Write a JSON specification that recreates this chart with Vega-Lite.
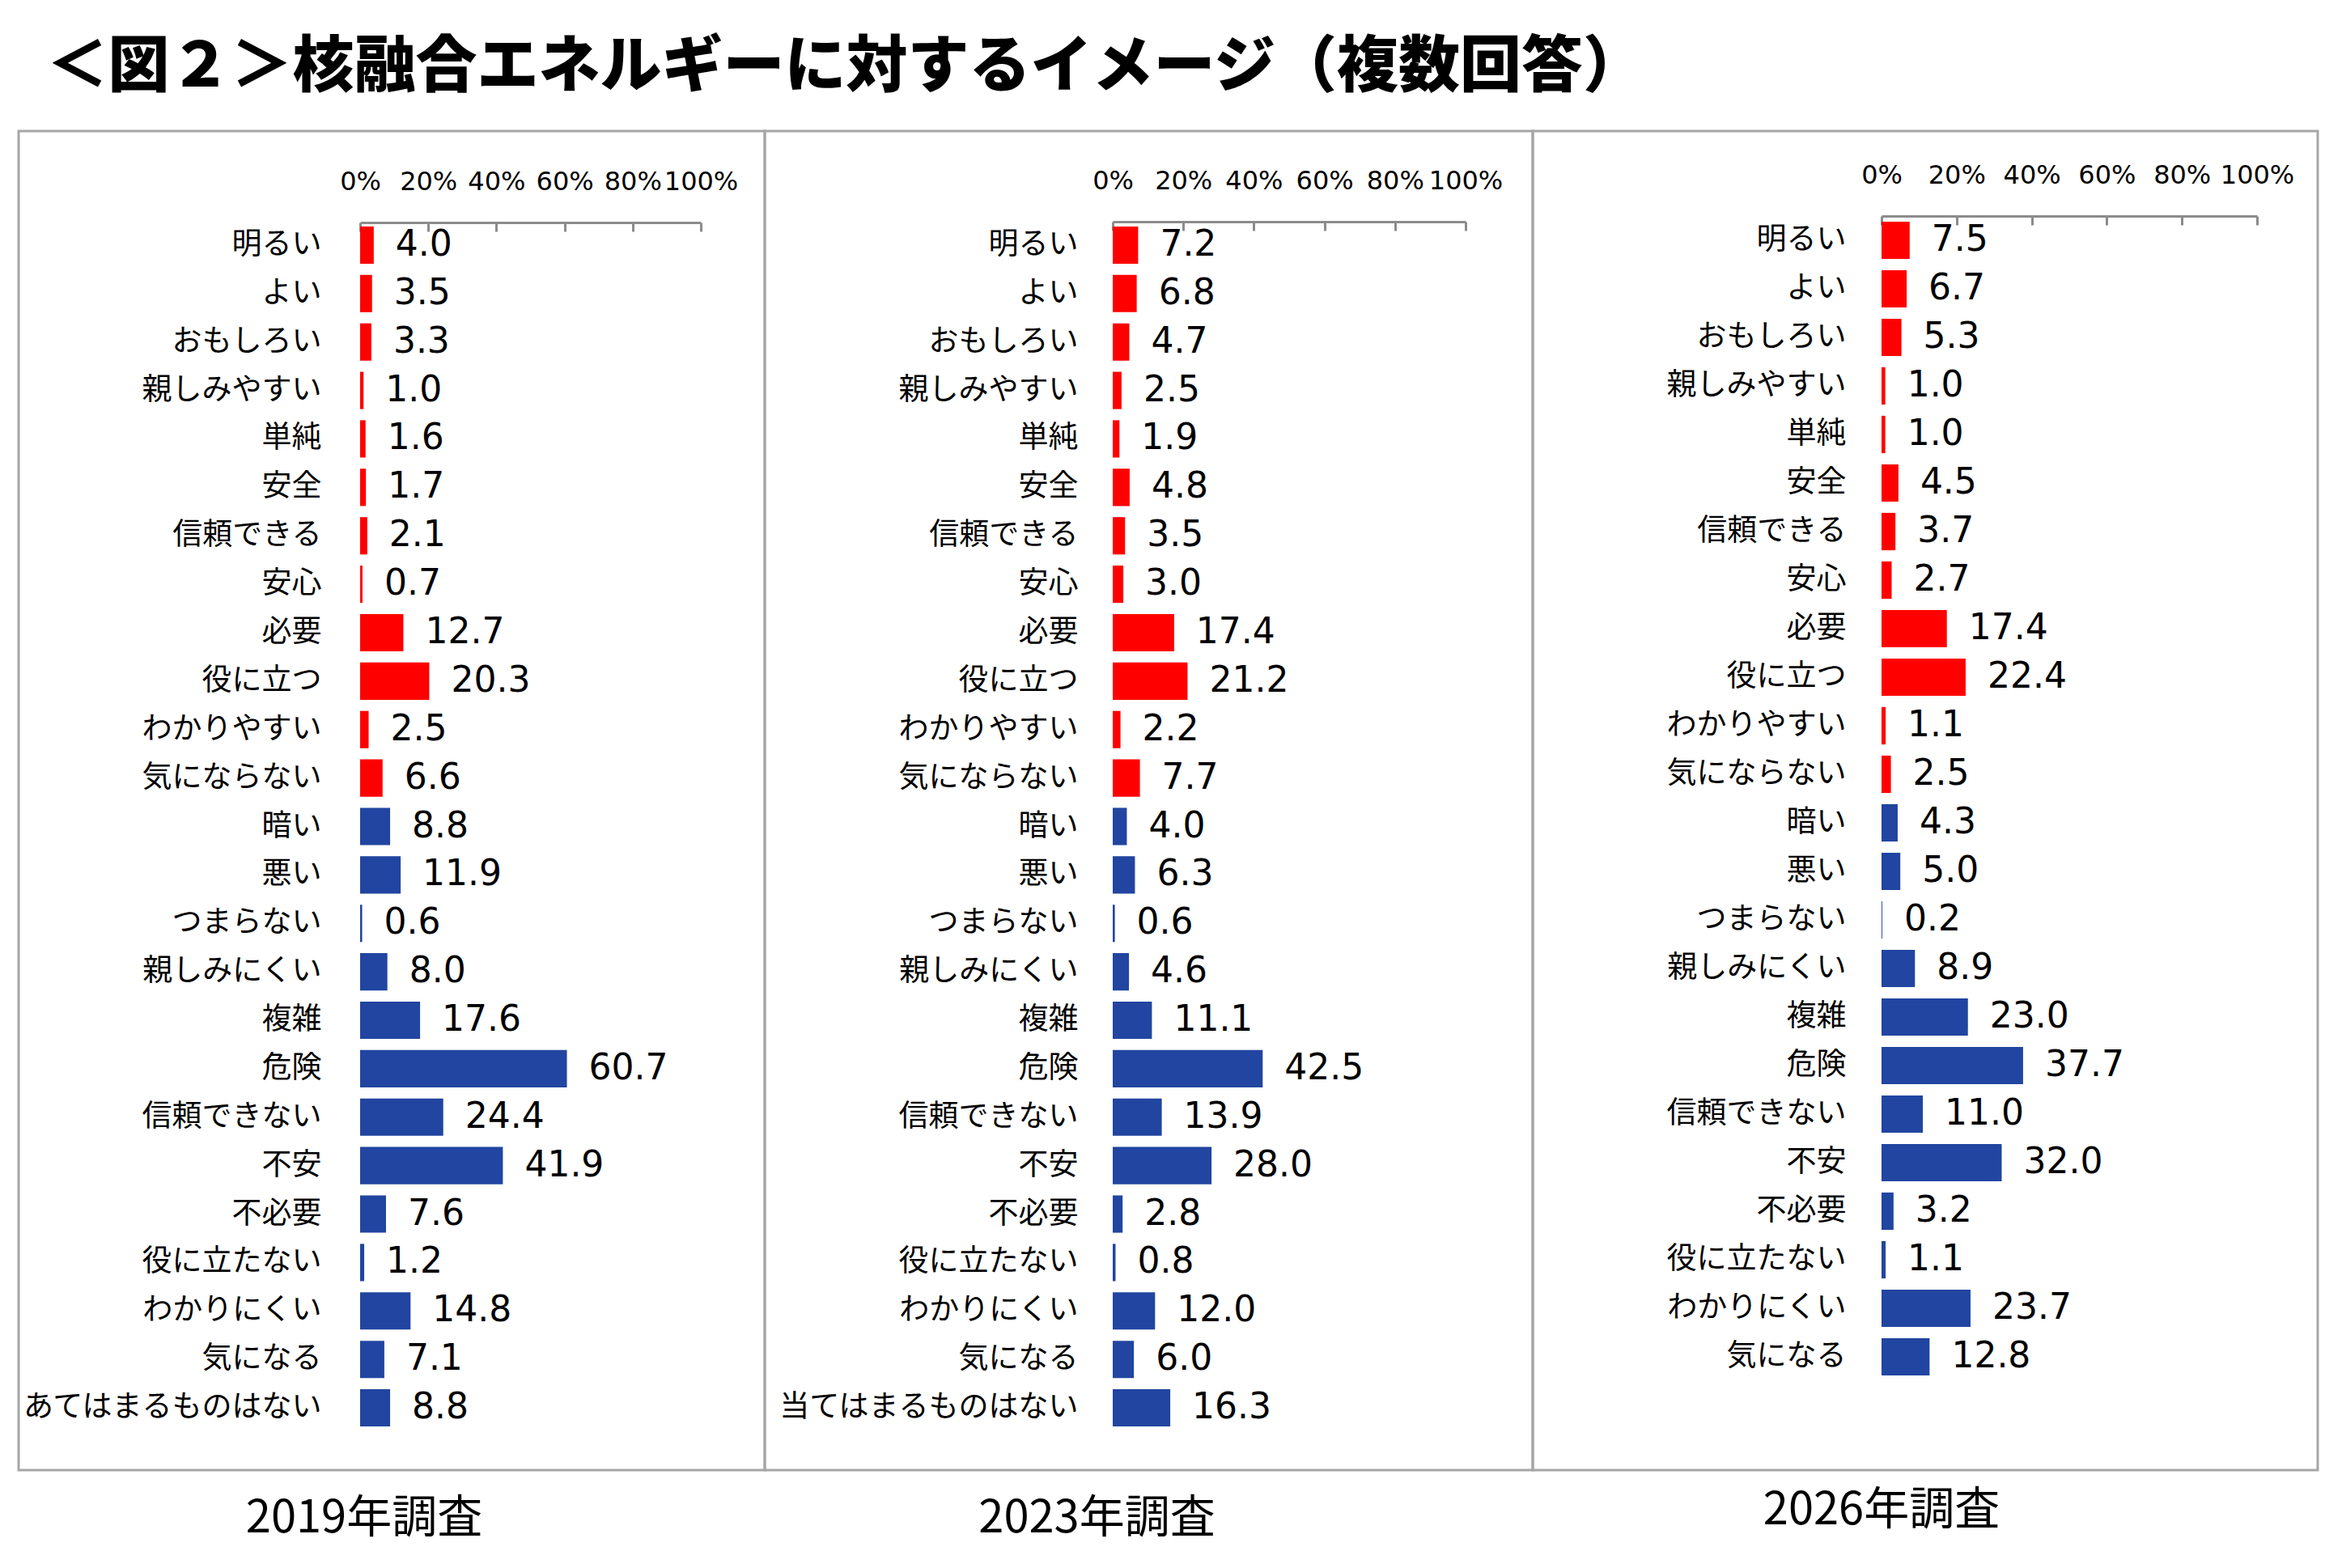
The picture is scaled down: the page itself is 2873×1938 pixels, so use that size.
{
  "$schema": "https://vega.github.io/schema/vega-lite/v6.json",
  "background": "white",
  "padding": {"left": 21, "top": 45, "right": 0, "bottom": 40},
  "title": {
    "text": "＜図２＞核融合エネルギーに対するイメージ（複数回答）",
    "anchor": "start",
    "font": "Noto Sans CJK JP",
    "fontSize": 76,
    "fontWeight": 900,
    "color": "#000000",
    "offset": 38,
    "dx": 36
  },
  "datasets": {
    "survey": [
      {"survey": "2019", "order": 1, "item": "明るい", "value": 4.0, "tone": "pos"},
      {"survey": "2019", "order": 2, "item": "よい", "value": 3.5, "tone": "pos"},
      {"survey": "2019", "order": 3, "item": "おもしろい", "value": 3.3, "tone": "pos"},
      {"survey": "2019", "order": 4, "item": "親しみやすい", "value": 1.0, "tone": "pos"},
      {"survey": "2019", "order": 5, "item": "単純", "value": 1.6, "tone": "pos"},
      {"survey": "2019", "order": 6, "item": "安全", "value": 1.7, "tone": "pos"},
      {"survey": "2019", "order": 7, "item": "信頼できる", "value": 2.1, "tone": "pos"},
      {"survey": "2019", "order": 8, "item": "安心", "value": 0.7, "tone": "pos"},
      {"survey": "2019", "order": 9, "item": "必要", "value": 12.7, "tone": "pos"},
      {"survey": "2019", "order": 10, "item": "役に立つ", "value": 20.3, "tone": "pos"},
      {"survey": "2019", "order": 11, "item": "わかりやすい", "value": 2.5, "tone": "pos"},
      {"survey": "2019", "order": 12, "item": "気にならない", "value": 6.6, "tone": "pos"},
      {"survey": "2019", "order": 13, "item": "暗い", "value": 8.8, "tone": "neg"},
      {"survey": "2019", "order": 14, "item": "悪い", "value": 11.9, "tone": "neg"},
      {"survey": "2019", "order": 15, "item": "つまらない", "value": 0.6, "tone": "neg"},
      {"survey": "2019", "order": 16, "item": "親しみにくい", "value": 8.0, "tone": "neg"},
      {"survey": "2019", "order": 17, "item": "複雑", "value": 17.6, "tone": "neg"},
      {"survey": "2019", "order": 18, "item": "危険", "value": 60.7, "tone": "neg"},
      {"survey": "2019", "order": 19, "item": "信頼できない", "value": 24.4, "tone": "neg"},
      {"survey": "2019", "order": 20, "item": "不安", "value": 41.9, "tone": "neg"},
      {"survey": "2019", "order": 21, "item": "不必要", "value": 7.6, "tone": "neg"},
      {"survey": "2019", "order": 22, "item": "役に立たない", "value": 1.2, "tone": "neg"},
      {"survey": "2019", "order": 23, "item": "わかりにくい", "value": 14.8, "tone": "neg"},
      {"survey": "2019", "order": 24, "item": "気になる", "value": 7.1, "tone": "neg"},
      {"survey": "2019", "order": 25, "item": "あてはまるものはない", "value": 8.8, "tone": "neg"},
      {"survey": "2023", "order": 1, "item": "明るい", "value": 7.2, "tone": "pos"},
      {"survey": "2023", "order": 2, "item": "よい", "value": 6.8, "tone": "pos"},
      {"survey": "2023", "order": 3, "item": "おもしろい", "value": 4.7, "tone": "pos"},
      {"survey": "2023", "order": 4, "item": "親しみやすい", "value": 2.5, "tone": "pos"},
      {"survey": "2023", "order": 5, "item": "単純", "value": 1.9, "tone": "pos"},
      {"survey": "2023", "order": 6, "item": "安全", "value": 4.8, "tone": "pos"},
      {"survey": "2023", "order": 7, "item": "信頼できる", "value": 3.5, "tone": "pos"},
      {"survey": "2023", "order": 8, "item": "安心", "value": 3.0, "tone": "pos"},
      {"survey": "2023", "order": 9, "item": "必要", "value": 17.4, "tone": "pos"},
      {"survey": "2023", "order": 10, "item": "役に立つ", "value": 21.2, "tone": "pos"},
      {"survey": "2023", "order": 11, "item": "わかりやすい", "value": 2.2, "tone": "pos"},
      {"survey": "2023", "order": 12, "item": "気にならない", "value": 7.7, "tone": "pos"},
      {"survey": "2023", "order": 13, "item": "暗い", "value": 4.0, "tone": "neg"},
      {"survey": "2023", "order": 14, "item": "悪い", "value": 6.3, "tone": "neg"},
      {"survey": "2023", "order": 15, "item": "つまらない", "value": 0.6, "tone": "neg"},
      {"survey": "2023", "order": 16, "item": "親しみにくい", "value": 4.6, "tone": "neg"},
      {"survey": "2023", "order": 17, "item": "複雑", "value": 11.1, "tone": "neg"},
      {"survey": "2023", "order": 18, "item": "危険", "value": 42.5, "tone": "neg"},
      {"survey": "2023", "order": 19, "item": "信頼できない", "value": 13.9, "tone": "neg"},
      {"survey": "2023", "order": 20, "item": "不安", "value": 28.0, "tone": "neg"},
      {"survey": "2023", "order": 21, "item": "不必要", "value": 2.8, "tone": "neg"},
      {"survey": "2023", "order": 22, "item": "役に立たない", "value": 0.8, "tone": "neg"},
      {"survey": "2023", "order": 23, "item": "わかりにくい", "value": 12.0, "tone": "neg"},
      {"survey": "2023", "order": 24, "item": "気になる", "value": 6.0, "tone": "neg"},
      {"survey": "2023", "order": 25, "item": "当てはまるものはない", "value": 16.3, "tone": "neg"},
      {"survey": "2026", "order": 1, "item": "明るい", "value": 7.5, "tone": "pos"},
      {"survey": "2026", "order": 2, "item": "よい", "value": 6.7, "tone": "pos"},
      {"survey": "2026", "order": 3, "item": "おもしろい", "value": 5.3, "tone": "pos"},
      {"survey": "2026", "order": 4, "item": "親しみやすい", "value": 1.0, "tone": "pos"},
      {"survey": "2026", "order": 5, "item": "単純", "value": 1.0, "tone": "pos"},
      {"survey": "2026", "order": 6, "item": "安全", "value": 4.5, "tone": "pos"},
      {"survey": "2026", "order": 7, "item": "信頼できる", "value": 3.7, "tone": "pos"},
      {"survey": "2026", "order": 8, "item": "安心", "value": 2.7, "tone": "pos"},
      {"survey": "2026", "order": 9, "item": "必要", "value": 17.4, "tone": "pos"},
      {"survey": "2026", "order": 10, "item": "役に立つ", "value": 22.4, "tone": "pos"},
      {"survey": "2026", "order": 11, "item": "わかりやすい", "value": 1.1, "tone": "pos"},
      {"survey": "2026", "order": 12, "item": "気にならない", "value": 2.5, "tone": "pos"},
      {"survey": "2026", "order": 13, "item": "暗い", "value": 4.3, "tone": "neg"},
      {"survey": "2026", "order": 14, "item": "悪い", "value": 5.0, "tone": "neg"},
      {"survey": "2026", "order": 15, "item": "つまらない", "value": 0.2, "tone": "neg"},
      {"survey": "2026", "order": 16, "item": "親しみにくい", "value": 8.9, "tone": "neg"},
      {"survey": "2026", "order": 17, "item": "複雑", "value": 23.0, "tone": "neg"},
      {"survey": "2026", "order": 18, "item": "危険", "value": 37.7, "tone": "neg"},
      {"survey": "2026", "order": 19, "item": "信頼できない", "value": 11.0, "tone": "neg"},
      {"survey": "2026", "order": 20, "item": "不安", "value": 32.0, "tone": "neg"},
      {"survey": "2026", "order": 21, "item": "不必要", "value": 3.2, "tone": "neg"},
      {"survey": "2026", "order": 22, "item": "役に立たない", "value": 1.1, "tone": "neg"},
      {"survey": "2026", "order": 23, "item": "わかりにくい", "value": 23.7, "tone": "neg"},
      {"survey": "2026", "order": 24, "item": "気になる", "value": 12.8, "tone": "neg"}
    ]
  },
  "data": {"name": "survey"},
  "spacing": 0,
  "bounds": "flush",
  "hconcat": [
    {
      "width": 922,
      "height": 1655,
      "title": {"text": "2019年調査", "orient": "bottom", "anchor": "middle", "font": "Noto Sans CJK JP", "fontSize": 56, "fontWeight": "normal", "color": "#000000", "offset": 33, "dx": -34},
      "transform": [{"filter": "datum.survey == '2019'"}],
      "encoding": {
        "y": {
          "field": "item", "type": "nominal",
          "sort": {"field": "order", "op": "min"},
          "scale": {"range": [111, 1608], "paddingInner": 0.23, "paddingOuter": 0.115},
          "axis": {"title": null, "domain": false, "ticks": false, "offset": -422, "labelPadding": 48, "labelFont": "Noto Sans CJK JP", "labelFontSize": 37, "labelColor": "#000000", "labelLimit": 600}
        }
      },
      "layer": [
        {
          "mark": {"type": "bar"},
          "encoding": {
            "x": {
              "field": "value", "type": "quantitative",
              "scale": {"domain": [0, 100], "range": [422, 843]},
              "axis": {"orient": "top", "title": null, "grid": false, "values": [0, 20, 40, 60, 80, 100], "labelExpr": "datum.value + '%'", "offset": -113, "tickSize": -11, "tickWidth": 3, "tickColor": "#8C8C8C", "domainWidth": 3, "domainColor": "#8C8C8C", "labelFont": "DejaVu Sans", "labelFontSize": 32, "labelColor": "#000000", "labelPadding": 45, "labelFlush": false, "labelOverlap": false}
            },
            "color": {"field": "tone", "type": "nominal", "scale": {"domain": ["pos", "neg"], "range": ["#FF0000", "#2145A0"]}, "legend": null}
          }
        },
        {
          "mark": {"type": "text", "align": "left", "baseline": "middle", "dx": 27, "font": "DejaVu Sans", "fontSize": 44, "color": "#000000"},
          "encoding": {
            "x": {"field": "value", "type": "quantitative"},
            "text": {"field": "value", "type": "quantitative", "format": ".1f"}
          }
        }
      ]
    },
    {
      "width": 949,
      "height": 1655,
      "title": {"text": "2023年調査", "orient": "bottom", "anchor": "middle", "font": "Noto Sans CJK JP", "fontSize": 56, "fontWeight": "normal", "color": "#000000", "offset": 33, "dx": -64},
      "transform": [{"filter": "datum.survey == '2023'"}],
      "encoding": {
        "y": {
          "field": "item", "type": "nominal",
          "sort": {"field": "order", "op": "min"},
          "scale": {"range": [111, 1608], "paddingInner": 0.23, "paddingOuter": 0.115},
          "axis": {"title": null, "domain": false, "ticks": false, "offset": -430, "labelPadding": 43, "labelFont": "Noto Sans CJK JP", "labelFontSize": 37, "labelColor": "#000000", "labelLimit": 600}
        }
      },
      "layer": [
        {
          "mark": {"type": "bar"},
          "encoding": {
            "x": {
              "field": "value", "type": "quantitative",
              "scale": {"domain": [0, 100], "range": [430, 866]},
              "axis": {"orient": "top", "title": null, "grid": false, "values": [0, 20, 40, 60, 80, 100], "labelExpr": "datum.value + '%'", "offset": -112, "tickSize": -11, "tickWidth": 3, "tickColor": "#8C8C8C", "domainWidth": 3, "domainColor": "#8C8C8C", "labelFont": "DejaVu Sans", "labelFontSize": 32, "labelColor": "#000000", "labelPadding": 45, "labelFlush": false, "labelOverlap": false}
            },
            "color": {"field": "tone", "type": "nominal", "scale": {"domain": ["pos", "neg"], "range": ["#FF0000", "#2145A0"]}, "legend": null}
          }
        },
        {
          "mark": {"type": "text", "align": "left", "baseline": "middle", "dx": 27, "font": "DejaVu Sans", "fontSize": 44, "color": "#000000"},
          "encoding": {
            "x": {"field": "value", "type": "quantitative"},
            "text": {"field": "value", "type": "quantitative", "format": ".1f"}
          }
        }
      ]
    },
    {
      "width": 970,
      "height": 1655,
      "title": {"text": "2026年調査", "orient": "bottom", "anchor": "middle", "font": "Noto Sans CJK JP", "fontSize": 56, "fontWeight": "normal", "color": "#000000", "offset": 23, "dx": -54},
      "transform": [{"filter": "datum.survey == '2026'"}],
      "encoding": {
        "y": {
          "field": "item", "type": "nominal",
          "sort": {"field": "order", "op": "min"},
          "scale": {"range": [105, 1545], "paddingInner": 0.23, "paddingOuter": 0.115},
          "axis": {"title": null, "domain": false, "ticks": false, "offset": -431, "labelPadding": 44, "labelFont": "Noto Sans CJK JP", "labelFontSize": 37, "labelColor": "#000000", "labelLimit": 600}
        }
      },
      "layer": [
        {
          "mark": {"type": "bar"},
          "encoding": {
            "x": {
              "field": "value", "type": "quantitative",
              "scale": {"domain": [0, 100], "range": [431, 895]},
              "axis": {"orient": "top", "title": null, "grid": false, "values": [0, 20, 40, 60, 80, 100], "labelExpr": "datum.value + '%'", "offset": -105, "tickSize": -11, "tickWidth": 3, "tickColor": "#8C8C8C", "domainWidth": 3, "domainColor": "#8C8C8C", "labelFont": "DejaVu Sans", "labelFontSize": 32, "labelColor": "#000000", "labelPadding": 45, "labelFlush": false, "labelOverlap": false}
            },
            "color": {"field": "tone", "type": "nominal", "scale": {"domain": ["pos", "neg"], "range": ["#FF0000", "#2145A0"]}, "legend": null}
          }
        },
        {
          "mark": {"type": "text", "align": "left", "baseline": "middle", "dx": 27, "font": "DejaVu Sans", "fontSize": 44, "color": "#000000"},
          "encoding": {
            "x": {"field": "value", "type": "quantitative"},
            "text": {"field": "value", "type": "quantitative", "format": ".1f"}
          }
        }
      ]
    }
  ],
  "config": {
    "view": {"stroke": "#A6A6A6", "strokeWidth": 3}
  }
}
